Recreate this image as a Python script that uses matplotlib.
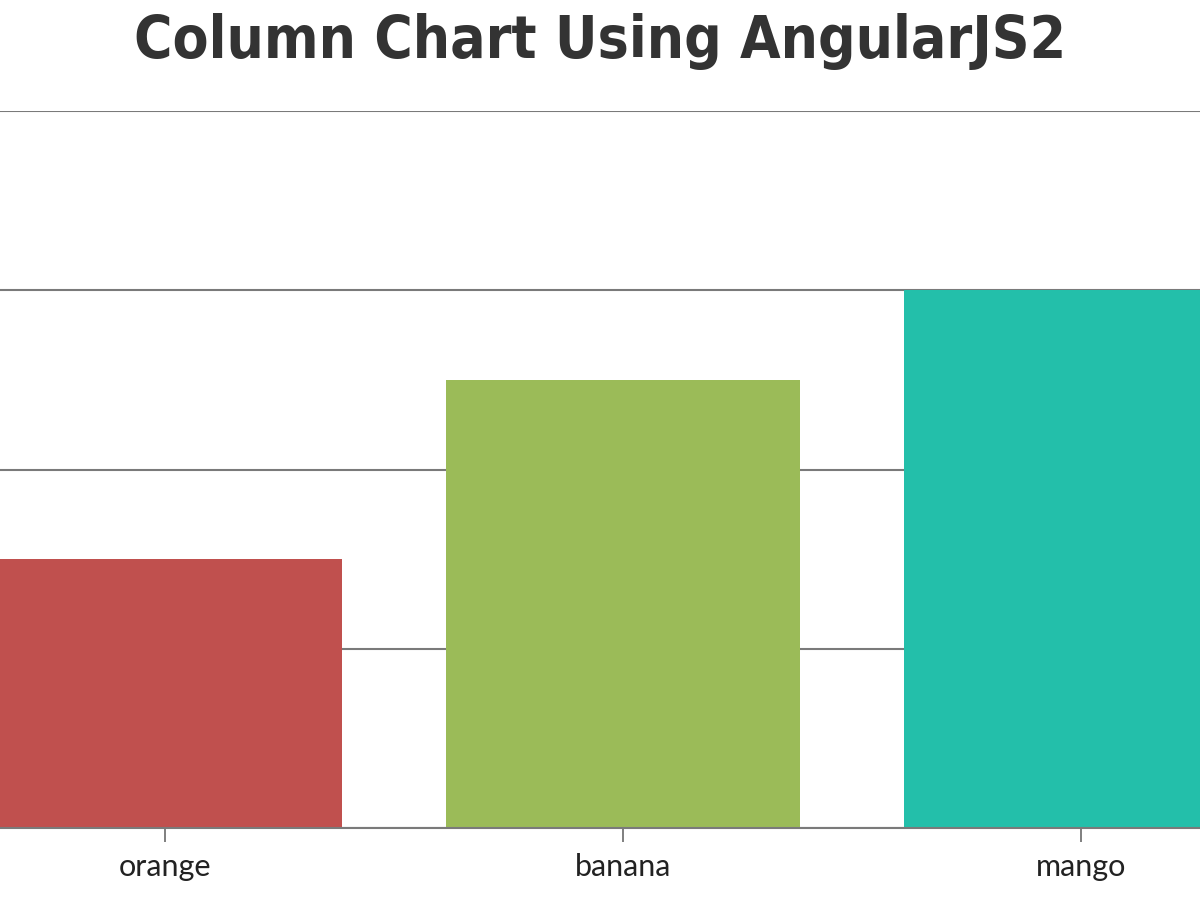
import matplotlib
matplotlib.use('Agg')
import matplotlib.pyplot as plt

# dados
categorias = ['orange', 'banana', 'mango']
valores = [15, 25, 30]
cores = ['#C0504E', '#9BBB58', '#23BFAA']
posicoes = [1, 2, 3]

fig = plt.figure(figsize=(12, 9), dpi=100)
ax = fig.add_axes([0, 72 / 900, 1, 717 / 900])

ax.bar(posicoes, valores, width=0.775, color=cores, zorder=2)

# recorte igual ao original (o primeiro ponto fica fora da imagem)
ax.set_xlim(1 - 165 / 458, 1 + (1200 - 165) / 458)
ax.set_ylim(0, 40)

ax.set_yticks([0, 10, 20, 30, 40])
ax.yaxis.grid(True, color='#7a7a7a', linewidth=1.5, zorder=1)
ax.tick_params(axis='y', left=False, labelleft=False)

ax.set_xticks(posicoes)
ax.set_xticklabels(categorias, fontsize=22, color='#222222', family='Lato')
ax.tick_params(axis='x', length=10, width=1.2, color='#6a6a6a', pad=8)

for lado in ['left', 'right', 'top']:
    ax.spines[lado].set_visible(False)
ax.spines['bottom'].set_color('#7a7a7a')
ax.spines['bottom'].set_linewidth(1.5)

fig.text(0.5, 1 - 42 / 900, 'Column Chart Using AngularJS2',
         ha='center', va='center', fontsize=42, fontweight='heavy',
         fontstretch='condensed', family='DejaVu Sans', color='#333333')

fig.savefig('out.png', dpi=100)
